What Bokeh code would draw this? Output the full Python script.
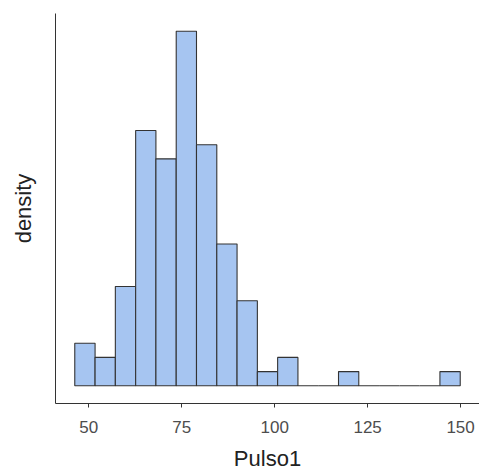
from bokeh.plotting import figure
from bokeh.models import Range1d, FixedTicker, ColumnDataSource
from bokeh.embed import file_html
from bokeh.resources import INLINE

# Histogram of Pulso1 (19 bins)
bin_edges = [46.25, 51.71, 57.16, 62.62, 68.07, 73.53, 78.98, 84.44, 89.89, 95.35,
             100.80, 106.26, 111.71, 117.17, 122.62, 128.08, 133.53, 138.99, 144.44, 149.90]
counts = [3, 2, 7, 18, 16, 25, 17, 10, 6, 1, 2, 0, 0, 1, 0, 0, 0, 0, 1]
x_ticks = [50, 75, 100, 125, 150]

n = sum(counts)
width = (bin_edges[-1] - bin_edges[0]) / len(counts)
density = [c / (n * width) for c in counts]

src = ColumnDataSource(dict(left=bin_edges[:-1], right=bin_edges[1:],
                            top=density, bottom=[0] * len(counts)))

xspan = bin_edges[-1] - bin_edges[0]
ymax = max(density)

p = figure(frame_width=424, frame_height=390, output_backend="svg", toolbar_location=None,
           x_range=Range1d(bin_edges[0] - 0.05 * xspan, bin_edges[-1] + 0.05 * xspan),
           y_range=Range1d(-0.05 * ymax, 1.05 * ymax),
           min_border_left=55, min_border_right=0, min_border_top=13, min_border_bottom=60)

p.quad(left="left", right="right", top="top", bottom="bottom", source=src,
       fill_color="#A6C5F1", line_color="#333333", line_width=1.1)

p.xgrid.visible = False
p.ygrid.visible = False
p.outline_line_color = None

font = "Liberation Sans"
p.xaxis.ticker = FixedTicker(ticks=x_ticks)
p.xaxis.axis_label = "Pulso1"
p.xaxis.axis_line_color = "#333333"
p.xaxis.major_tick_line_color = "#333333"
p.xaxis.major_tick_out = 4
p.xaxis.major_tick_in = 0
p.xaxis.minor_tick_line_color = None
p.xaxis.major_label_text_font = font
p.xaxis.major_label_text_font_size = "17px"
p.xaxis.major_label_text_color = "#4D4D4D"
p.xaxis.major_label_standoff = 13
p.xaxis.axis_label_text_font = font
p.xaxis.axis_label_text_font_style = "normal"
p.xaxis.axis_label_text_font_size = "22px"
p.xaxis.axis_label_text_color = "#222222"
p.xaxis.axis_label_standoff = 10

p.yaxis.ticker = FixedTicker(ticks=[])
p.yaxis.axis_label = "density"
p.yaxis.axis_line_color = "#333333"
p.yaxis.major_tick_line_color = None
p.yaxis.minor_tick_line_color = None
p.yaxis.major_label_text_font_size = "0px"
p.yaxis.axis_label_text_font = font
p.yaxis.axis_label_text_font_style = "normal"
p.yaxis.axis_label_text_font_size = "22px"
p.yaxis.axis_label_text_color = "#222222"
p.yaxis.axis_label_standoff = 20

open("out.html", "w").write(file_html(p, INLINE))
